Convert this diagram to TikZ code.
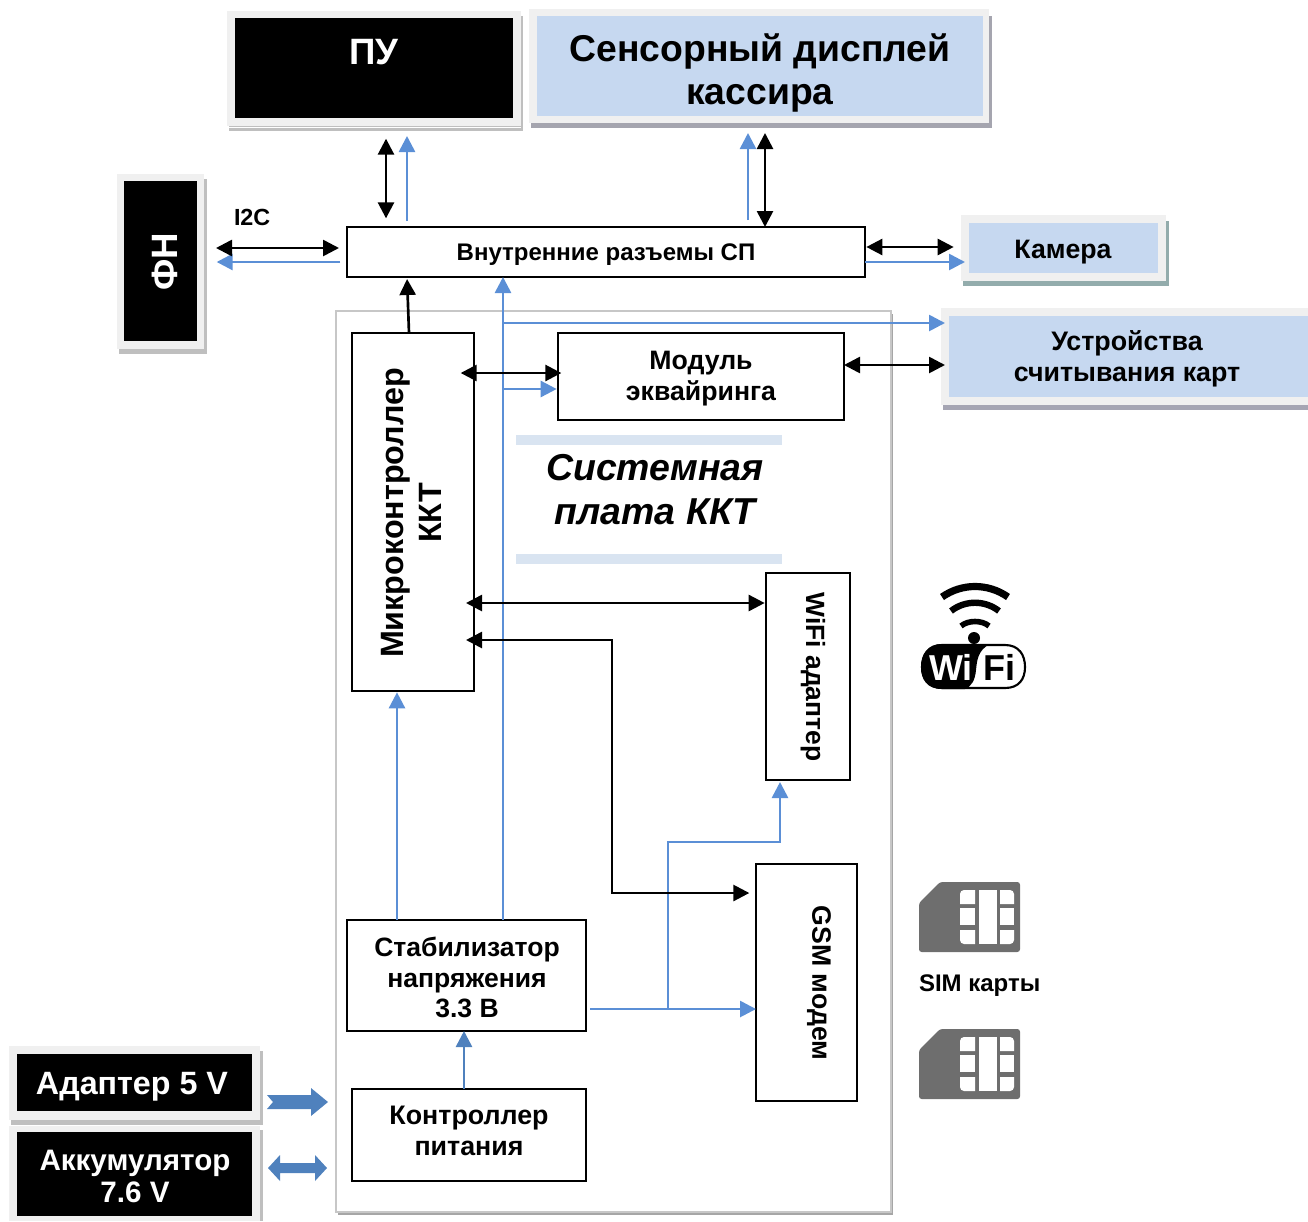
\documentclass[tikz,border=0pt]{standalone}
\usepackage{fontspec}
\setmainfont{Liberation Sans}
\usetikzlibrary{arrows.meta}
\definecolor{lblue}{HTML}{C6D8F0}
\definecolor{frm}{HTML}{F0F0F0}
\definecolor{ablue}{HTML}{5B8FD6}
\definecolor{bblue}{HTML}{4F81BD}
\definecolor{strip}{HTML}{D9E4F1}
\definecolor{simc}{HTML}{6E6E6E}
\newcommand{\fs}[2]{\fontsize{#1}{#2}\selectfont\bfseries}
\tikzset{
  sz/.style 2 args={minimum width=#1*0.75pt,minimum height=#2*0.75pt,inner sep=0pt,outer sep=0pt},
  blackbox/.style={fill=black,text=white},
  bluebox/.style={fill=lblue,text=black},
  framebox/.style={fill=frm},
  plainbox/.style={draw=black,fill=white,line width=1.5pt},
  lbl/.style={inner sep=0pt,outer sep=0pt,align=center},
  blk/.style={draw=black,line width=2pt},
  blu/.style={draw=ablue,line width=2pt},
  tipb/.style={-{Triangle[length=12pt,width=12pt]}},
  tipbb/.style={{Triangle[length=12pt,width=12pt]}-{Triangle[length=12pt,width=12pt]}},
}
\begin{document}
\begin{tikzpicture}[x=0.75pt,y=-0.75pt,line join=miter]
\useasboundingbox (0,0) rectangle (1308,1221);
% system board
\fill[gray!70] (338,314) rectangle (893,1215);
\node[sz={555}{901},fill=white,draw=black!22,line width=1pt,anchor=north west] (board) at (336,311) {};
% outer frames with shadows
\fill[black!25] (229,16) rectangle (523,131);
\node[sz={294}{115},framebox,anchor=north west] (puF) at (227,11) {};
\draw[white,line width=.7pt] (229,127) -- (521,127);
\node[sz={278}{100},blackbox] (pu) at (374,68) {};
\node[lbl,text=white,font=\fs{27.5pt}{30pt}] (puT) at (374,52) {ПУ};

\fill[black!25!blue!8!gray!65] (531,16) rectangle (992,128);
\node[sz={460}{114},framebox,anchor=north west] (dispF) at (529,9) {};
\node[sz={446}{100},bluebox] (disp) at (760,66) {};
\node[lbl,font=\fs{28pt}{32.5pt}] (dispT) at (760,73) {Сенсорный дисплей\\кассира};

\fill[black!25] (119,179) rectangle (207,354);
\node[sz={87}{175},framebox,anchor=north west] (fnF) at (117,174) {};
\node[sz={73}{160},blackbox] (fn) at (160.5,261) {};
\node[lbl,text=white,rotate=90,font=\fs{27.5pt}{30pt}] (fnT) at (165,262) {ФН};

\fill[teal!30!gray!65] (963,221) rectangle (1169,286);
\node[sz={205}{66},framebox,anchor=north west] (camF) at (961,215) {};
\node[sz={189}{50},bluebox] (cam) at (1063.5,248) {};
\node[lbl,font=\fs{20pt}{24pt}] (camT) at (1063,252) {Камера};

\fill[blue!8!gray!65] (943,314) rectangle (1308,410);
\node[sz={367}{97},framebox,anchor=north west] (cardF) at (941,308) {};
\node[sz={359}{81},bluebox,anchor=north west] (card) at (949,316) {};
\node[lbl,font=\fs{20.1pt}{23.25pt}] (cardT) at (1127,358.5) {Устройства\\считывания карт};

\fill[black!25] (11,1051) rectangle (263,1125);
\node[sz={251}{74},framebox,anchor=north west] (adF) at (9,1046) {};
\node[sz={235}{57},blackbox,anchor=north west] (ad) at (17,1054) {};
\node[lbl,text=white,font=\fs{24.2pt}{28pt}] (adT) at (132,1087) {Адаптер 5 V};

\fill[black!25] (11,1130) rectangle (263,1221);
\node[sz={251}{95},framebox,anchor=north west] (accF) at (9,1126) {};
\node[sz={235}{84},blackbox,anchor=north west] (acc) at (17,1132) {};
\node[lbl,text=white,font=\fs{22.2pt}{24pt}] (accT) at (135,1176) {Аккумулятор\\7.6 V};

% plain boxes
\node[sz={518}{50},plainbox,anchor=north west] (conn) at (347,227) {};
\node[lbl,font=\fs{18pt}{21pt}] (connT) at (606,255) {Внутренние разъемы СП};
\node[sz={122}{358},plainbox,anchor=north west] (mcu) at (352,333) {};
\node[lbl,rotate=90,font=\fs{24.2pt}{28.5pt}] (mcuT) at (411,513) {Микроконтроллер\\ККТ};
\node[sz={286}{87},plainbox,anchor=north west] (acq) at (558,333) {};
\node[lbl,font=\fs{20pt}{23.25pt}] (acqT) at (701,378.5) {Модуль\\эквайринга};
\node[sz={84}{207},plainbox,anchor=north west] (wifi) at (766,573) {};
\node[lbl,rotate=-90,font=\fs{19.8pt}{21pt}] (wifiT) at (813,677) {WiFi адаптер};
\node[sz={101}{237},plainbox,anchor=north west] (gsm) at (756,864) {};
\node[lbl,rotate=-90,font=\fs{20pt}{21pt}] (gsmT) at (819,983) {GSM модем};
\node[sz={239}{111},plainbox,anchor=north west] (stab) at (347,920) {};
\node[lbl,font=\fs{19.9pt}{23pt}] (stabT) at (467,977.5) {Стабилизатор\\напряжения\\3.3 В};
\node[sz={234}{92},plainbox,anchor=north west] (ctrl) at (352,1089) {};
\node[lbl,font=\fs{20.1pt}{23.25pt}] (ctrlT) at (469,1130.5) {Контроллер\\питания};

% title stripes
\node[sz={266}{10},fill=strip,anchor=north west] (st1) at (516,435) {};
\node[sz={266}{10},fill=strip,anchor=north west] (st2) at (516,554) {};
\node[lbl,font=\fs{28.1pt}{33pt}\itshape] (title) at (655,490) {Системная\\плата ККТ};

\node[lbl,font=\fs{17.5pt}{20pt},anchor=west] (i2c) at (234,217) {I2C};

% blue connectors
\draw[blu,tipb,shorten >=7.5pt] (conn.north -| 407,0) ++(0,-6) -- (puF.south -| 407,0);
\draw[blu,tipb,shorten >=7.5pt] (conn.north -| 748,0) ++(0,-7) -- (dispF.south -| 748,0);
\draw[blu,tipb,shorten <=3.5pt,shorten >=9.5pt] (conn.west |- 0,262) ++(-2,0) -- (fnF.east |- 0,262);
\draw[blu,tipb,shorten >=-3pt] (conn.east |- 0,262) -- (camF.west |- 0,262);
\coordinate (busTop) at (503,323);
\draw[blu,tipb] (stab.north -| 503,0) -- (conn.south -| 503,0);
\draw[blu,tipb,shorten >=-3pt] (busTop) -- (cardF.west |- 0,323);
\coordinate (busAcq) at (503,389);
\draw[blu,tipb,shorten >=1pt] (busAcq) -- (acq.west |- 0,389);
\draw[blu,tipb,shorten >=1pt] (stab.north -| 397,0) -- (mcu.south -| 397,0);
\coordinate (powOut) at (590,1009);
\draw[blu,tipb] (powOut) -- (gsm.west |- 0,1009);
\coordinate (powBr) at (668,1009);
\draw[blu,tipb,shorten >=1.5pt] (powBr) -- (668,842) -- (780,842) -- (wifi.south -| 780,0);
\draw[blu,tipb,draw=bblue] (ctrl.north -| 464,0) -- (stab.south -| 464,0);

% black connectors
\draw[blk,tipbb,shorten <=9.5pt,shorten >=6.5pt] (puF.south -| 386,0) -- (conn.north -| 386,0);
\draw[blk,tipbb,shorten <=7.5pt] (dispF.south -| 765,0) -- (conn.north -| 765,0);
\draw[blk,tipbb,shorten <=9pt,shorten >=6pt] (fnF.east |- 0,248) -- (conn.west |- 0,248);
\draw[blk,tipbb,shorten <=1pt,shorten >=5.5pt] (conn.east |- 0,247) -- (camF.west |- 0,247);
\draw[blk,tipb,shorten >=1.5pt] (mcu.north -| 409,0) -- (conn.south -| 407,0);
\draw[blk,tipbb,shorten <=-10pt,shorten >=-2.5pt] (mcu.east |- 0,373) -- (acq.west |- 0,373);
\draw[blk,tipbb,shorten >=-3pt,shorten <=0pt] (acq.east |- 0,365) -- (cardF.west |- 0,365);
\draw[blk,tipbb,shorten <=-6pt,shorten >=1pt] (mcu.east |- 0,603) -- (wifi.west |- 0,603);
\draw[blk,tipbb,shorten <=-6pt,shorten >=5pt] (mcu.east |- 0,640) -- (612,640) -- (612,893) -- (gsm.west |- 0,893);

% block arrows
\fill[bblue] (267,1095) -- (311,1095) -- (311,1088) -- (328,1102) -- (311,1116) -- (311,1109) -- (267,1109) -- (273,1102) -- cycle;
\fill[bblue] (268,1168) -- (280,1155) -- (280,1163) -- (315,1163) -- (315,1155) -- (327,1168) -- (315,1181) -- (315,1173) -- (280,1173) -- (280,1181) -- cycle;

% Wi-Fi icon
\draw[black,line width=5.4pt] (942,597) .. controls (962,583) and (988,583) .. (1008,597);
\draw[black,line width=4.8pt] (951,611) .. controls (965,600) and (985,600) .. (999,611);
\draw[black,line width=4.2pt] (961,626) .. controls (968,620) and (982,620) .. (989,626);
\fill[black] (974,638) circle[radius=6];
\draw[black,fill=white,line width=1.6pt] (942,645) -- (1005,645) .. controls (1019,645) and (1025,655) .. (1025,667) .. controls (1025,679) and (1019,688) .. (1005,688) -- (942,688) .. controls (928,688) and (922,679) .. (922,667) .. controls (922,655) and (928,645) .. (942,645) -- cycle;
\fill[black] (942,644) -- (990,644) .. controls (978,650) and (977,660) .. (976,670) .. controls (975,680) and (972,686) .. (965,689) -- (942,689) .. controls (928,689) and (921,679) .. (921,667) .. controls (921,655) and (928,644) .. (942,644) -- cycle;
\node[lbl,text=white,font=\fs{27pt}{28pt}] (wiT) at (951,667) {Wi};
\node[lbl,text=black,font=\fs{27pt}{28pt}] (fiT) at (999,667) {Fi};

% SIM icons
\foreach \n/\dy in {a/0,b/147}{
\begin{scope}[yshift=-\dy*0.75pt]
\fill[simc,rounded corners=2pt] (919,903) -- (940,882) -- (1020,882) -- (1020,952) -- (919,952) -- cycle;
\fill[white] (975,904) -- (975,890) [rounded corners=3pt] -- (960,890) [sharp corners] -- (960,904) -- cycle;
\fill[white] (960,908) rectangle (975,925);
\fill[white] (975,930) -- (960,930) [rounded corners=3pt] -- (960,944) [sharp corners] -- (975,944) -- cycle;
\fill[white] (979,890) rectangle (997,944);
\fill[white] (1000,904) -- (1000,890) [rounded corners=3pt] -- (1014,890) [sharp corners] -- (1014,904) -- cycle;
\fill[white] (1000,908) rectangle (1014,925);
\fill[white] (1000,930) -- (1014,930) [rounded corners=3pt] -- (1014,944) [sharp corners] -- (1000,944) -- cycle;
\end{scope}}
\node[lbl,font=\fs{18pt}{20pt},anchor=west] (simT) at (919,986) {SIM карты};
\end{tikzpicture}
\end{document}
